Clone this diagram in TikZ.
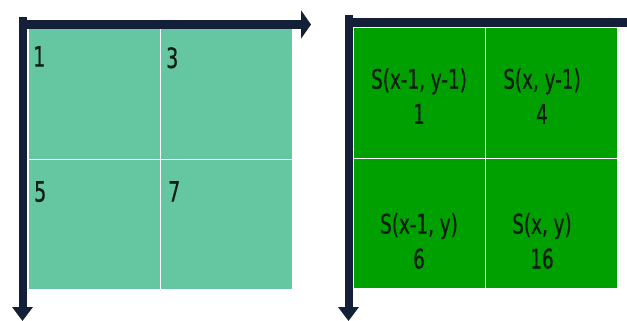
\documentclass[tikz,border=0pt]{standalone}
\usepackage{fontspec}
\newfontfamily\cellfont[FakeStretch=0.68, FakeBold=0.6]{DejaVu Sans}
\usetikzlibrary{arrows.meta,positioning}

\definecolor{mint}{RGB}{100,199,161}
\definecolor{leaf}{RGB}{0,160,0}
\definecolor{axisblue}{RGB}{20,32,56}
\definecolor{ink}{RGB}{10,30,18}

\begin{document}
\begin{tikzpicture}[
  x=1pt, y=-1pt,
  cell/.style={draw=white, line width=1pt, minimum width=132pt, minimum height=130pt,
               inner sep=0pt, outer sep=0pt},
  num/.style={font=\cellfont\fontsize{28}{32}\selectfont, text=ink, inner sep=0pt},
  term/.style={font=\cellfont\fontsize{27}{35}\selectfont, text=ink, align=center, inner sep=0pt},
  axis/.style={draw=axisblue, line width=8pt}
]
\useasboundingbox (0,0) rectangle (627,321);
\clip (0,0) rectangle (627,321);

%% ── Left grid: pixel values ───────────────────────────────────────────────────

\node[cell, fill=mint] (l11) at (94,94)  {};
\node[cell, fill=mint] (l12) at (226,94) {};
\node[cell, fill=mint] (l21) at (94,224) {};
\node[cell, fill=mint] (l22) at (226,224) {};

\node[num, below right=17pt and 5pt of l11.north west] (n11) {1};
\node[num, below right=18pt and 6pt of l12.north west] (n12) {3};
\node[num, below right=22pt and 6pt of l21.north west] (n21) {5};
\node[num, below right=22pt and 8pt of l22.north west] (n22) {7};

%% ── Right grid: summed area ───────────────────────────────────────────────────

\node[cell, fill=leaf] (r11) at (419,93)  {};
\node[cell, fill=leaf] (r12) at (551,93)  {};
\node[cell, fill=leaf] (r21) at (419,223) {};
\node[cell, fill=leaf] (r22) at (551,223) {};

\node[term] (s11) at ([yshift=-3pt]r11.center)               {S(x-1, y-1)\\1};
\node[term] (s12) at ([xshift=-9pt, yshift=-3pt]r12.center)  {S(x, y-1)\\4};
\node[term] (s21) at ([yshift=-18pt]r21.center)              {S(x-1, y)\\6};
\node[term] (s22) at ([xshift=-9pt, yshift=-18pt]r22.center) {S(x, y)\\16};

%% ── Axes ──────────────────────────────────────────────────────────────────────

% left pair
\coordinate (lyA) at (22.5,17);  \coordinate (lyB) at (22.5,321);
\coordinate (lxA) at (26,24.5);  \coordinate (lxB) at (311,24.5);
\draw[axis, -{Triangle[length=14pt, width=20pt]}] (lyA) -- (lyB);
\draw[axis, line width=9pt, -{Triangle[length=10pt, width=28pt]}] (lxA) -- (lxB);

% right pair (x axis runs off the page)
\coordinate (ryA) at (348.5,15); \coordinate (ryB) at (348.5,321);
\coordinate (rxA) at (352,23);   \coordinate (rxB) at (645,23);
\draw[axis, -{Triangle[length=14pt, width=20pt]}] (ryA) -- (ryB);
\draw[axis, line width=9pt, -{Triangle[length=10pt, width=28pt]}] (rxA) -- (rxB);

\end{tikzpicture}
\end{document}
